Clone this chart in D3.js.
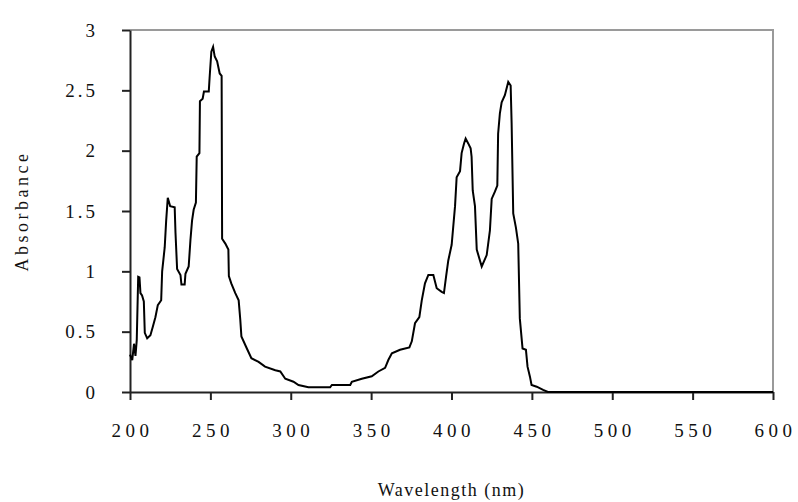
<!DOCTYPE html>
<html>
<head>
<meta charset="utf-8">
<script src="https://cdn.jsdelivr.net/npm/d3@7"></script>
<style>
  body { margin: 0; background: #fff; }
  svg text { font-family: "Liberation Serif", "DejaVu Serif", serif; fill: #111; }
</style>
</head>
<body>
<svg width="798" height="502"></svg>
<script>
var width = 798;
var height = 502;
var plotLeft = 130, plotRight = 773, plotTop = 30, plotBottom = 392;

// wavelength (nm) and absorbance
var wavelength = [200,201.4,202.5,203.4,204.2,205.1,205.9,206.5,207.5,208.6,209.2,210.7,212.7,214.2,215.8,217.3,219.4,220,221.6,222.5,223.5,225,227.8,228.3,229.3,231.4,232,234,234.5,236.5,237.6,238.6,239.6,241,241.5,243.2,243.5,245.2,246,249,249.5,250.6,251.7,252.7,254.2,255.8,257,257.3,259.3,261.2,261.5,263,265.5,267.6,268.6,269.3,272.2,275.5,280,284,290.4,293.5,296.6,301.7,304.8,311,324.5,325.6,337,338,344.2,350.4,354.5,358.7,360.7,362.9,368,373.8,375.3,377.3,380,381.5,383.5,385.6,388.7,390.8,393.9,395.3,396.6,398,400.1,402.2,403.2,405.3,406.3,407.8,408.8,410.4,411.9,412.5,413.2,414.6,415.7,418.8,421.9,423.9,425,427,428.5,429,430.1,431.2,433.2,435.3,436.8,437.4,438.4,440.1,441.5,442.5,444.2,446.3,447.3,448.8,449.8,453,457,460,600];
var absorbance = [0.31,0.265,0.4,0.3,0.43,0.955,0.95,0.82,0.8,0.75,0.49,0.445,0.47,0.54,0.62,0.72,0.76,1.0,1.2,1.42,1.61,1.54,1.53,1.32,1.02,0.97,0.89,0.89,0.98,1.04,1.26,1.42,1.51,1.57,1.95,1.98,2.41,2.43,2.49,2.49,2.6,2.82,2.86,2.78,2.74,2.64,2.62,1.27,1.23,1.18,0.96,0.9,0.82,0.76,0.6,0.46,0.375,0.28,0.25,0.21,0.18,0.17,0.11,0.085,0.058,0.039,0.039,0.058,0.058,0.085,0.11,0.13,0.17,0.2,0.265,0.32,0.35,0.37,0.42,0.57,0.62,0.76,0.9,0.97,0.97,0.86,0.83,0.82,0.955,1.09,1.22,1.54,1.78,1.83,1.98,2.06,2.1,2.06,2.02,1.95,1.67,1.54,1.18,1.04,1.135,1.34,1.6,1.66,1.71,2.14,2.31,2.4,2.46,2.57,2.54,2.23,1.48,1.36,1.23,0.61,0.36,0.35,0.21,0.127,0.058,0.044,0.017,0,0];

var xTicks = [200,250,300,350,400,450,500,550,600];
var yTicks = [0,0.5,1,1.5,2,2.5,3];
var yTickLabels = ["0","0.5","1","1.5","2","2.5","3"];

var points = wavelength.map((w, i) => ({ w: w, a: absorbance[i] }));

var xScale = d3.scaleLinear().domain([200, 600]).range([plotLeft, plotRight]);
var yScale = d3.scaleLinear().domain([0, 3]).range([plotBottom, plotTop]);

var svg = d3.select("svg");

// gray frame on top and right
svg.append("path")
    .attr("d", `M${plotLeft},${plotTop}H${plotRight}V${plotBottom}`)
    .attr("fill", "none")
    .attr("stroke", "#9a9a9a")
    .attr("stroke-width", 2);

// x axis
var xAxis = svg.append("g")
    .attr("transform", "translate(0," + plotBottom + ")")
    .call(d3.axisBottom(xScale).tickValues(xTicks).tickSize(8).tickSizeOuter(0).tickPadding(24));
xAxis.select(".domain").attr("stroke", "#222").attr("stroke-width", 2);
xAxis.selectAll(".tick line").attr("stroke", "#222").attr("stroke-width", 2);
xAxis.selectAll("text")
    .attr("font-size", "19px")
    .attr("font-family", "Liberation Serif")
    .attr("dx", "2px")
    .style("letter-spacing", "4.5px")
    .attr("fill", "#111");

// y axis
var yAxis = svg.append("g")
    .attr("transform", "translate(" + plotLeft + ",0)")
    .call(d3.axisLeft(yScale).tickValues(yTicks).tickFormat((d, i) => yTickLabels[i])
      .tickSize(8).tickSizeOuter(0).tickPadding(24));
yAxis.select(".domain").attr("stroke", "#222").attr("stroke-width", 2);
yAxis.selectAll(".tick line").attr("stroke", "#222").attr("stroke-width", 2);
yAxis.selectAll("text")
    .attr("font-size", "19px")
    .attr("font-family", "Liberation Serif")
    .style("letter-spacing", "3px")
    .attr("fill", "#111");

// spectrum
var line = d3.line()
    .x(d => xScale(d.w))
    .y(d => yScale(d.a));

svg.append("path")
    .datum(points)
    .attr("d", line)
    .attr("fill", "none")
    .attr("stroke", "#000")
    .attr("stroke-width", 2)
    .attr("stroke-linejoin", "miter");

// axis titles
svg.append("text")
    .attr("x", (plotLeft + plotRight) / 2)
    .attr("y", 496)
    .attr("font-size", "18px")
    .style("letter-spacing", "1.5px")
    .style("text-anchor", "middle")
    .text("Wavelength (nm)");

svg.append("text")
    .attr("x", -(plotTop + plotBottom) / 2)
    .attr("y", 28)
    .attr("font-size", "18px")
    .style("letter-spacing", "3.5px")
    .attr("transform", "rotate(-90)")
    .style("text-anchor", "middle")
    .text("Absorbance");
</script>
</body>
</html>
